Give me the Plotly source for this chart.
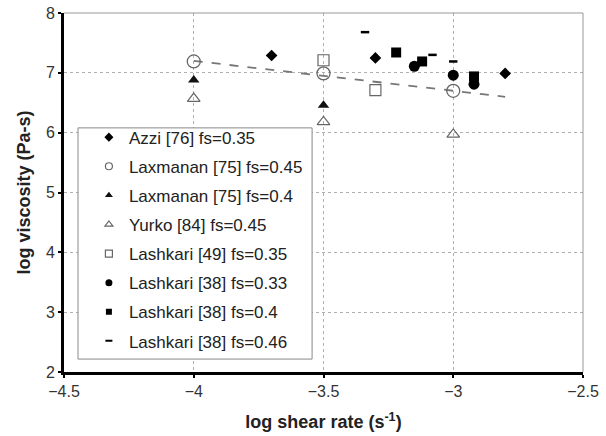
import plotly.graph_objects as go

# ---- data ----
azzi_x = [-3.7, -3.3, -2.8]
azzi_y = [7.29, 7.25, 6.99]

lax45_x = [-4.0, -3.5, -3.0]
lax45_y = [7.19, 6.99, 6.70]

lax40_x = [-4.0, -3.5]
lax40_y = [6.88, 6.46]

yurko_x = [-4.0, -3.5, -3.0]
yurko_y = [6.57, 6.18, 5.97]

lash49_x = [-3.5, -3.3]
lash49_y = [7.21, 6.71]

lash38a_x = [-3.15, -3.0, -2.92]
lash38a_y = [7.11, 6.96, 6.81]

lash38b_x = [-3.22, -3.12, -2.92]
lash38b_y = [7.34, 7.19, 6.94]

lash38c_x = [-3.34, -3.08, -3.0]
lash38c_y = [7.68, 7.30, 7.19]

trend_x = [-4.0, -2.8]
trend_y = [7.2, 6.6]

# name, x, y, symbol, size, colour, line width, legend size
series = [
    ("Azzi [76] fs=0.35", azzi_x, azzi_y, "diamond", 9, "black", None, 7),
    ("Laxmanan [75] fs=0.45", lax45_x, lax45_y, "circle-open", 13, "#666666", 1.3, 7),
    ("Laxmanan [75] fs=0.4", lax40_x, lax40_y, "triangle-up", 10, "#111111", None, 7),
    ("Yurko [84] fs=0.45", yurko_x, yurko_y, "triangle-up-open", 11, "#666666", 1.2, 7),
    ("Lashkari [49] fs=0.35", lash49_x, lash49_y, "square-open", 11, "#666666", 1.2, 7),
    ("Lashkari [38] fs=0.33", lash38a_x, lash38a_y, "circle", 11, "black", None, 7),
    ("Lashkari [38] fs=0.4", lash38b_x, lash38b_y, "square", 10, "black", None, 6),
    ("Lashkari [38] fs=0.46", lash38c_x, lash38c_y, "line-ew", 6, "black", 2.5, 5),
]

fig = go.Figure()

fig.add_trace(go.Scatter(
    x=trend_x, y=trend_y, mode="lines",
    line=dict(color="#777777", width=1.8, dash="dash"),
    showlegend=False, hoverinfo="skip",
))

for i, (name, xs, ys, sym, size, col, lw, lsize) in enumerate(series):
    marker = dict(symbol=sym, size=size, color=col)
    if lw is not None:
        marker["line"] = dict(color=col, width=lw)
    fig.add_trace(go.Scatter(
        x=xs, y=ys, mode="markers", name=name, marker=marker,
        showlegend=False,
    ))
    # legend-only entry with a smaller symbol
    lmarker = dict(symbol=sym, size=lsize, color=col)
    if lw is not None:
        lmarker["line"] = dict(color=col, width=min(lw, 1.2) if "open" in sym else 2)
    fig.add_trace(go.Scatter(
        x=[None], y=[None], mode="markers", name=name, marker=lmarker,
        legendgroup=f"g{i}", showlegend=True,
    ))

font_family = "Liberation Sans, Arial, sans-serif"

fig.update_layout(
    width=606, height=436,
    margin=dict(l=64, r=23, t=13, b=64),
    paper_bgcolor="white", plot_bgcolor="white",
    font=dict(family=font_family, size=16, color="#333333"),
    showlegend=True,
    legend=dict(
        x=0.048, y=0.703, xanchor="left", yanchor="top",
        bgcolor="rgba(0,0,0,0)", borderwidth=0,
        font=dict(family=font_family, size=17, color="#222222"),
        tracegroupgap=4,
        itemwidth=30,
    ),
    xaxis=dict(
        range=[-4.5, -2.5], dtick=0.5, tick0=-4.5,
        automargin=False,
        showgrid=True, gridcolor="#b0b0b0", griddash="3px,3px", gridwidth=1,
        zeroline=False,
        showline=True, linecolor="black", linewidth=3, mirror=False,
        ticks="outside", ticklen=3, tickcolor="black", tickwidth=2,
        tickfont=dict(size=16, color="#333333"),
        title=dict(text="<b>log shear rate (s<sup>-1</sup>)</b>", font=dict(size=18, color="#222222"), standoff=17),
    ),
    yaxis=dict(
        range=[2, 8], dtick=1,
        automargin=False,
        showgrid=True, gridcolor="#b0b0b0", griddash="3px,3px", gridwidth=1,
        zeroline=False,
        showline=True, linecolor="black", linewidth=3, mirror=False,
        ticks="outside", ticklen=3, tickcolor="black", tickwidth=2,
        tickfont=dict(size=16, color="#333333"),
        title=dict(text="<b>log viscosity (Pa-s)</b>", font=dict(size=18, color="#222222"), standoff=11),
    ),
)

# top and right thin gray frame
fig.add_shape(type="line", xref="paper", yref="paper", x0=0, x1=1, y0=1, y1=1,
              line=dict(color="#999999", width=1))
fig.add_shape(type="line", xref="paper", yref="paper", x0=1, x1=1, y0=0, y1=1,
              line=dict(color="#999999", width=1))
# legend frame
fig.add_shape(type="rect", xref="paper", yref="paper",
              x0=0.027, x1=0.478, y0=0.036, y1=0.68,
              line=dict(color="#888888", width=1), fillcolor="white", layer="above")

fig.write_html("out.html")
